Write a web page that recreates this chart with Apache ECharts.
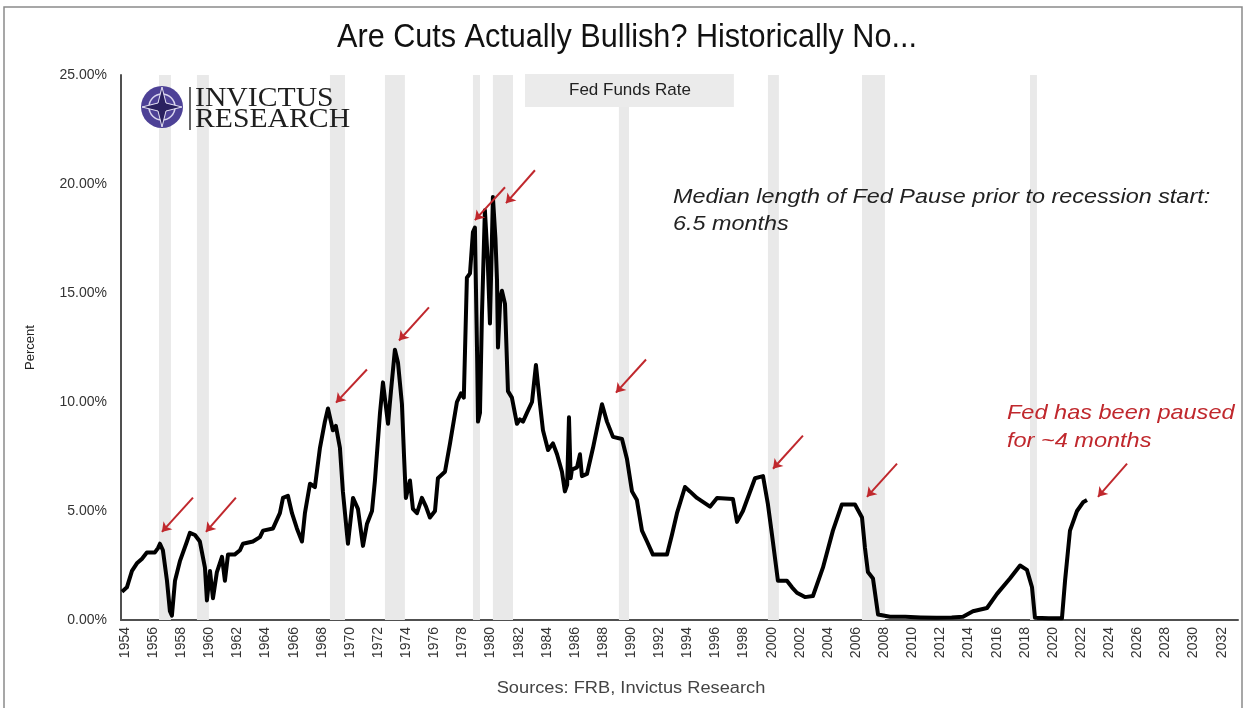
<!DOCTYPE html>
<html>
<head>
<meta charset="utf-8">
<script src="https://cdn.jsdelivr.net/npm/echarts@6/dist/echarts.min.js"></script>
<style>
html, body { margin: 0; padding: 0; background: #fff; }
#main { width: 1246px; height: 708px; }
</style>
</head>
<body>
<div id="main"></div>
<script>
// 点的横坐标(年), 按图中刻度读取
var pointYears = [1953.79, 1954.14, 1954.50, 1954.85, 1955.20, 1955.56, 1956.13, 1956.35, 1956.49, 1956.70,
	1956.99, 1957.20, 1957.34, 1957.56, 1957.91, 1958.41, 1958.62, 1958.98, 1959.33, 1959.69,
	1959.83, 1960.05, 1960.26, 1960.54, 1960.90, 1961.11, 1961.33, 1961.80, 1962.18, 1962.39,
	1963.10, 1963.60, 1963.82, 1964.53, 1965.02, 1965.24, 1965.59, 1965.88, 1966.23, 1966.59,
	1966.80, 1967.16, 1967.51, 1967.87, 1968.22, 1968.44, 1968.79, 1969.00, 1969.29, 1969.50,
	1969.86, 1970.22, 1970.57, 1970.93, 1971.21, 1971.57, 1971.78, 1972.14, 1972.35, 1972.71,
	1972.92, 1973.20, 1973.42, 1973.70, 1973.85, 1973.98, 1974.27, 1974.48, 1974.77, 1975.12,
	1975.41, 1975.69, 1976.05, 1976.26, 1976.76, 1977.12, 1977.61, 1977.90, 1978.10, 1978.32,
	1978.54, 1978.75, 1978.89, 1979.05, 1979.11, 1979.25, 1979.39, 1979.60, 1979.80, 1979.96,
	1980.17, 1980.35, 1980.46, 1980.53, 1980.70, 1980.81, 1981.03, 1981.24, 1981.52, 1981.88,
	1982.09, 1982.31, 1982.59, 1982.95, 1983.23, 1983.52, 1983.73, 1984.09, 1984.44, 1984.73,
	1985.08, 1985.29, 1985.45, 1985.58, 1985.70, 1985.79, 1986.15, 1986.36, 1986.50, 1986.86,
	1987.29, 1987.93, 1988.28, 1988.71, 1989.35, 1989.70, 1990.06, 1990.41, 1990.77, 1991.13,
	1991.55, 1992.55, 1992.90, 1993.26, 1993.83, 1994.18, 1994.68, 1995.61, 1996.11, 1997.24,
	1997.53, 1997.95, 1998.81, 1999.38, 1999.73, 2000.02, 2000.44, 2001.08, 2001.44, 2001.79,
	2002.36, 2002.93, 2003.64, 2004.35, 2004.99, 2005.92, 2006.42, 2006.63, 2006.84, 2007.20,
	2007.56, 2008.41, 2009.50, 2010.60, 2011.70, 2012.80, 2013.60, 2014.31, 2015.31, 2016.02,
	2016.94, 2017.66, 2018.15, 2018.51, 2018.72, 2019.70, 2020.64, 2020.86, 2021.21, 2021.71,
	2022.14, 2022.42];

// 联邦基金利率(%)
var fedFundsRate = [1.3, 1.5, 2.25, 2.6, 2.8, 3.1, 3.1, 3.3, 3.5, 3.2,
	1.8, 0.4, 0.2, 1.8, 2.7, 3.6, 4.0, 3.9, 3.6, 2.4,
	0.9, 2.25, 1.0, 2.2, 2.9, 1.8, 3.0, 3.0, 3.2, 3.5,
	3.6, 3.8, 4.1, 4.2, 4.9, 5.6, 5.7, 4.9, 4.2, 3.6,
	4.9, 6.25, 6.1, 7.9, 9.1, 9.7, 8.7, 8.9, 7.9, 5.9,
	3.5, 5.6, 5.1, 3.4, 4.4, 5.0, 6.4, 9.5, 10.9, 9.0,
	10.5, 12.4, 11.8, 9.9, 7.5, 5.6, 6.4, 5.1, 4.9, 5.6,
	5.2, 4.7, 5.0, 6.5, 6.8, 8.1, 10.0, 10.4, 10.2, 15.7,
	15.9, 17.8, 18.0, 12.0, 9.1, 9.5, 14.0, 18.8, 16.5, 13.6,
	19.4, 17.5, 15.6, 12.5, 14.8, 15.1, 14.5, 10.5, 10.2, 9.0,
	9.2, 9.1, 9.5, 10.0, 11.7, 9.9, 8.7, 7.8, 8.1, 7.6,
	6.8, 5.9, 6.2, 9.3, 6.5, 6.9, 7.0, 7.6, 6.6, 6.7,
	7.9, 9.9, 9.1, 8.4, 8.3, 7.4, 5.9, 5.5, 4.1, 3.6,
	3.0, 3.0, 3.9, 4.9, 6.1, 5.9, 5.6, 5.2, 5.6, 5.55,
	4.5, 5.0, 6.5, 6.6, 5.3, 3.9, 1.8, 1.8, 1.5, 1.25,
	1.05, 1.1, 2.4, 4.1, 5.3, 5.3, 4.7, 3.3, 2.2, 1.9,
	0.25, 0.15, 0.15, 0.12, 0.1, 0.12, 0.15, 0.4, 0.55, 1.2,
	1.9, 2.5, 2.3, 1.5, 0.1, 0.08, 0.08, 1.8, 4.1, 5.0,
	5.4, 5.5];

// 衰退区间(灰色竖条)起止年份
var recessionStart = [1956.42, 1959.12, 1968.58, 1972.49, 1978.75, 1980.17, 1989.13, 1999.73, 2006.42, 2018.37];
var recessionEnd = [1957.27, 1959.97, 1969.65, 1973.91, 1979.25, 1981.60, 1989.85, 2000.51, 2008.05, 2018.86];

// 红色箭头: 尾部 -> 箭头 (年, 百分比)
var arrowTail = [[1958.84, 5.61], [1961.89, 5.61], [1971.21, 11.49], [1975.62, 14.34], [1981.03, 19.85],
	[1983.16, 20.63], [1991.06, 11.95], [2002.22, 8.46], [2008.91, 7.17], [2025.27, 7.17]];
var arrowHead = [[1956.63, 4.04], [1959.76, 4.04], [1969.01, 9.97], [1973.49, 12.82], [1978.89, 18.34],
	[1981.10, 19.12], [1988.92, 10.43], [2000.09, 6.94], [2006.77, 5.65], [2023.20, 5.65]];

// X轴标签
var yearLabels = [];
for (var y = 1954; y <= 2032; y += 2) {
	yearLabels.push(y);
}

var lineData = [];
for (var i = 0; i < pointYears.length; i++) {
	lineData.push([pointYears[i], fedFundsRate[i]]);
}

var bandData = [];
for (var i = 0; i < recessionStart.length; i++) {
	bandData.push([{ xAxis: recessionStart[i] }, { xAxis: recessionEnd[i] }]);
}

var arrowData = [];
for (var i = 0; i < arrowTail.length; i++) {
	arrowData.push([{ coord: arrowTail[i] }, { coord: arrowHead[i] }]);
}

var FONT = '"Liberation Sans", Arial, sans-serif';
var RED = '#c0282d';

var myChart = echarts.init(document.getElementById('main'));

var option = {
	backgroundColor: '#ffffff',
	animation: false,
	legend: {
		data: ['Fed Funds Rate'],
		left: 525,
		top: 74,
		z: 20,
		backgroundColor: '#ebebeb',
		padding: [8, 43, 8, 38],
		itemWidth: 0,
		itemHeight: 0,
		selectedMode: false,
		textStyle: {
			fontFamily: FONT,
			fontSize: 17,
			color: '#222'
		}
	},
	grid: {
		left: 121,
		right: 8,
		top: 75,
		bottom: 88
	},
	xAxis: {
		type: 'value',
		min: 1953.72,
		max: 2033.16,
		splitLine: { show: false },
		axisTick: { show: false },
		axisLine: {
			lineStyle: { color: '#505050', width: 2 }
		},
		axisLabel: {
			customValues: yearLabels,
			rotate: 90,
			margin: 7,
			fontFamily: FONT,
			fontSize: 14,
			color: '#333',
			formatter: function(v) {
				return String(Math.round(v));
			}
		}
	},
	yAxis: {
		type: 'value',
		min: 0,
		max: 25,
		interval: 5,
		name: 'Percent',
		nameLocation: 'middle',
		nameRotate: 90,
		nameGap: 84,
		nameTextStyle: {
			fontFamily: FONT,
			fontSize: 13,
			color: '#222'
		},
		splitLine: { show: false },
		axisTick: { show: false },
		axisLine: {
			show: true,
			lineStyle: { color: '#505050', width: 2 }
		},
		axisLabel: {
			margin: 14,
			fontFamily: FONT,
			fontSize: 14,
			color: '#333',
			formatter: function(v) {
				return v.toFixed(2) + '%';
			}
		}
	},
	series: [{
		name: 'Fed Funds Rate',
		type: 'line',
		data: lineData,
		showSymbol: false,
		symbol: 'none',
		lineStyle: { color: '#000', width: 4, join: 'round' },
		itemStyle: { color: '#000' },
		z: 3,
		markArea: {
			silent: true,
			itemStyle: { color: '#e9e9e9' },
			data: bandData
		},
		markLine: {
			silent: true,
			symbol: ['none', 'arrow'],
			symbolSize: 9,
			label: { show: false },
			lineStyle: { color: RED, width: 2, type: 'solid' },
			data: arrowData
		}
	}],
	graphic: [
		// 外框
		{
			type: 'rect',
			z: 50,
			shape: { x: 4, y: 7, width: 1238, height: 720 },
			style: { fill: 'none', stroke: '#8a8a8a', lineWidth: 1.5 },
			silent: true
		},
		// 标题
		{
			type: 'text',
			z: 50,
			x: 627,
			y: 38,
			scaleX: 0.9,
			style: {
				text: 'Are Cuts Actually Bullish? Historically No...',
				font: '34px "Liberation Sans", Arial, sans-serif',
				fill: '#111',
				align: 'center',
				verticalAlign: 'middle'
			}
		},
		// logo
		{
			type: 'circle',
			z: 50,
			shape: { cx: 162, cy: 107, r: 21 },
			style: { fill: '#4d4196' }
		},
		{
			type: 'circle',
			z: 51,
			shape: { cx: 162, cy: 107, r: 13 },
			style: { fill: 'none', stroke: '#d8d4ee', lineWidth: 1.5 }
		},
		{
			type: 'polygon',
			z: 52,
			shape: { points: [[162, 87], [166, 103], [182, 107], [166, 111], [162, 127], [158, 111], [142, 107], [158, 103]] },
			style: { fill: '#2a2160', stroke: '#e6e3f5', lineWidth: 1 }
		},
		{
			type: 'line',
			z: 50,
			shape: { x1: 190, y1: 87, x2: 190, y2: 130 },
			style: { stroke: '#666', lineWidth: 2 }
		},
		{
			type: 'text',
			z: 50,
			x: 195,
			y: 85,
			scaleX: 1.1,
			style: {
				text: 'INVICTUS',
				font: '27px "Liberation Serif", serif',
				fill: '#1e1e1e'
			}
		},
		{
			type: 'text',
			z: 50,
			x: 195,
			y: 106,
			scaleX: 1.1,
			style: {
				text: 'RESEARCH',
				font: '27px "Liberation Serif", serif',
				fill: '#1e1e1e'
			}
		},
		// 注释
		{
			type: 'text',
			z: 50,
			x: 673,
			y: 184,
			scaleX: 1.17,
			style: {
				text: 'Median length of Fed Pause prior to recession start:\n6.5 months',
				font: 'italic 20px "Liberation Sans", Arial, sans-serif',
				lineHeight: 27,
				fill: '#222'
			}
		},
		{
			type: 'text',
			z: 50,
			x: 1007,
			y: 399,
			scaleX: 1.12,
			style: {
				text: 'Fed has been paused\nfor ~4 months',
				font: 'italic 21px "Liberation Sans", Arial, sans-serif',
				lineHeight: 28,
				fill: RED
			}
		},
		{
			type: 'text',
			z: 50,
			x: 631,
			y: 689,
			scaleX: 1.14,
			style: {
				text: 'Sources: FRB, Invictus Research',
				font: '16px "Liberation Sans", Arial, sans-serif',
				fill: '#444',
				align: 'center',
				verticalAlign: 'middle'
			}
		}
	]
};

myChart.setOption(option);
</script>
</body>
</html>
